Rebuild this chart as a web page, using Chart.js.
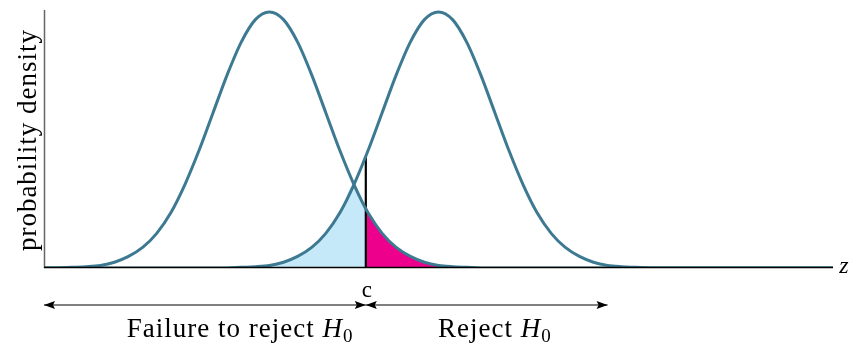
<!DOCTYPE html>
<html>
<head>
<meta charset="utf-8">
<script src="https://cdn.jsdelivr.net/npm/chart.js@4/dist/chart.umd.min.js"></script>
<style>
  html, body { margin: 0; padding: 0; background: #fff; }
</style>
</head>
<body>
<canvas id="grafico" width="853" height="347"></canvas>
<script>
// VALORES
const zValues = [
  -4, -3.75, -3.5, -3.25, -3, -2.75, -2.5, -2.25, -2, -1.75, -1.5, -1.25,
  -1, -0.75, -0.5, -0.25, 0, 0.25, 0.5, 0.75, 1, 1.25, 1.5, 1.75,
  2, 2.25, 2.5, 2.75, 3, 3.25, 3.5, 3.75, 4, 4.25, 4.5, 4.75,
  5, 5.25, 5.5, 5.75, 6, 6.25, 6.5, 6.75, 7, 7.25, 7.5, 7.75,
  8, 8.25, 8.5, 8.75, 9, 9.25, 9.5, 9.75, 10,
];

// densidade sob H0 (curva da esquerda)
const densidadeH0 = [
  0, 0, 0.001, 0.002, 0.004, 0.009, 0.018, 0.032, 0.054, 0.086, 0.13, 0.183,
  0.242, 0.301, 0.352, 0.387, 0.399, 0.387, 0.352, 0.301, 0.242, 0.183, 0.13, 0.086,
  0.054, 0.032, 0.018, 0.009, 0.004, 0.002, 0.001, 0, 0, 0, 0, 0,
  0, 0, 0, 0, 0, 0, 0, 0, 0, 0, 0, 0,
  0, 0, 0, 0, 0, 0, 0, 0, 0,
];

// densidade sob H1 (curva da direita)
const densidadeH1 = [
  0, 0, 0, 0, 0, 0, 0, 0, 0, 0, 0, 0,
  0, 0, 0.001, 0.002, 0.004, 0.009, 0.018, 0.032, 0.054, 0.086, 0.13, 0.183,
  0.242, 0.301, 0.352, 0.387, 0.399, 0.387, 0.352, 0.301, 0.242, 0.183, 0.13, 0.086,
  0.054, 0.032, 0.018, 0.009, 0.004, 0.002, 0.001, 0, 0, 0, 0, 0,
  0, 0, 0, 0, 0, 0, 0, 0, 0,
];

// valor critico c e as densidades nesse ponto [H0, H1]
const valorCritico = 1.71;
const densidadeEmC = [0.092, 0.173];

// limites das regioes sob o eixo e seus textos
const limitesRegioes = [-4, valorCritico, 6];
const textosRegioes = ["Failure to reject", "Reject"];

const AZUL = "#3d7a92";
const AZUL_CLARO = "#c6e9f9";
const ROSA = "#ec008c";
const SERIF = '"Liberation Serif", "DejaVu Serif", serif';

// AREAS
const areaBeta = [];
zValues.forEach((z, i) => {
  if (z < valorCritico) areaBeta.push({ x: z, y: Math.min(densidadeH0[i], densidadeH1[i]) });
});
areaBeta.push({ x: valorCritico, y: densidadeEmC[0] });

const areaAlfa = [{ x: valorCritico, y: densidadeEmC[0] }];
zValues.forEach((z, i) => {
  if (z > valorCritico) areaAlfa.push({ x: z, y: densidadeH0[i] });
});

const curva = (dens) => zValues.map((z, i) => ({ x: z, y: dens[i] }));

// texto com H_0 no final
function textoComH0(ctx, texto, cx, y) {
  ctx.font = "27px " + SERIF;
  const w1 = ctx.measureText(texto + " ").width;
  ctx.font = "italic 27px " + SERIF;
  const wH = ctx.measureText("H").width;
  ctx.font = "19px " + SERIF;
  const w0 = ctx.measureText("0").width;
  let x = cx - (w1 + wH + w0) / 2;
  ctx.textAlign = "left";
  ctx.font = "27px " + SERIF;
  ctx.fillText(texto + " ", x, y);
  x += w1;
  ctx.font = "italic 27px " + SERIF;
  ctx.fillText("H", x, y);
  x += wH;
  ctx.font = "19px " + SERIF;
  ctx.fillText("0", x, y + 5);
}

function seta(ctx, x1, x2, y) {
  ctx.beginPath();
  ctx.moveTo(x1, y);
  ctx.lineTo(x2, y);
  ctx.stroke();
  [[x1, 1], [x2, -1]].forEach(([x, d]) => {
    ctx.beginPath();
    ctx.moveTo(x, y);
    ctx.lineTo(x + d * 11, y - 4);
    ctx.lineTo(x + d * 9, y);
    ctx.lineTo(x + d * 11, y + 4);
    ctx.closePath();
    ctx.fill();
  });
}

const eixosETextos = {
  id: "eixosETextos",
  afterDatasetsDraw(chart) {
    const {
      ctx,
      chartArea: { top, right, bottom, left },
      scales: { x },
    } = chart;
    ctx.save();

    // eixo y
    ctx.strokeStyle = "#666";
    ctx.lineWidth = 1.5;
    ctx.beginPath();
    ctx.moveTo(left + 0.5, top);
    ctx.lineTo(left + 0.5, bottom);
    ctx.stroke();

    // eixo z
    ctx.strokeStyle = "#000";
    ctx.beginPath();
    ctx.moveTo(left, bottom - 0.5);
    ctx.lineTo(right, bottom - 0.5);
    ctx.stroke();

    ctx.fillStyle = "#000";
    ctx.font = "italic 24px " + SERIF;
    ctx.textAlign = "center";
    ctx.textBaseline = "alphabetic";
    ctx.fillText("z", right + 11, bottom + 5);

    // rotulo do eixo y
    ctx.save();
    ctx.translate(36, (top + bottom) / 2 + 1);
    ctx.rotate(-Math.PI / 2);
    ctx.font = "27px " + SERIF;
    ctx.letterSpacing = "1px";
    ctx.fillText("probability density", 0, 0);
    ctx.restore();

    // setas das regioes
    const px = limitesRegioes.map((v) => x.getPixelForValue(v));
    const ySeta = 305;
    ctx.lineWidth = 1.2;
    seta(ctx, px[0], px[1], ySeta);
    seta(ctx, px[1], px[2], ySeta);

    ctx.font = "23px " + SERIF;
    ctx.textAlign = "center";
    ctx.fillText("c", px[1] + 1, 297);

    ctx.letterSpacing = "1px";
    textoComH0(ctx, textosRegioes[0], x.getPixelForValue(-0.52), 337);
    textoComH0(ctx, textosRegioes[1], x.getPixelForValue(4.0), 337);
    ctx.restore();
  },
};

const CHART = document.getElementById("grafico");

new Chart(CHART, {
  type: "line",
  data: {
    datasets: [
      {
        data: curva(densidadeH0),
        borderColor: AZUL,
        borderWidth: 3,
        cubicInterpolationMode: "monotone",
        order: 1,
      },
      {
        data: curva(densidadeH1),
        borderColor: AZUL,
        borderWidth: 3,
        cubicInterpolationMode: "monotone",
        order: 1,
      },
      {
        data: [
          { x: valorCritico, y: 0 },
          { x: valorCritico, y: densidadeEmC[1] },
        ],
        borderColor: "#000",
        borderWidth: 2.2,
        order: 2,
      },
      {
        data: areaBeta,
        backgroundColor: AZUL_CLARO,
        borderWidth: 0,
        fill: "origin",
        cubicInterpolationMode: "monotone",
        order: 3,
      },
      {
        data: areaAlfa,
        backgroundColor: ROSA,
        borderWidth: 0,
        fill: "origin",
        cubicInterpolationMode: "monotone",
        order: 3,
      },
    ],
  },
  options: {
    responsive: false,
    animation: false,
    devicePixelRatio: 1,
    layout: { padding: { left: 44, right: 20, top: 10, bottom: 79 } },
    elements: { point: { radius: 0 } },
    plugins: { legend: { display: false }, tooltip: { enabled: false } },
    scales: {
      x: { type: "linear", min: -4, max: 10, display: false },
      y: { min: 0, max: 0.402, display: false },
    },
  },
  plugins: [eixosETextos],
});
</script>
</body>
</html>
